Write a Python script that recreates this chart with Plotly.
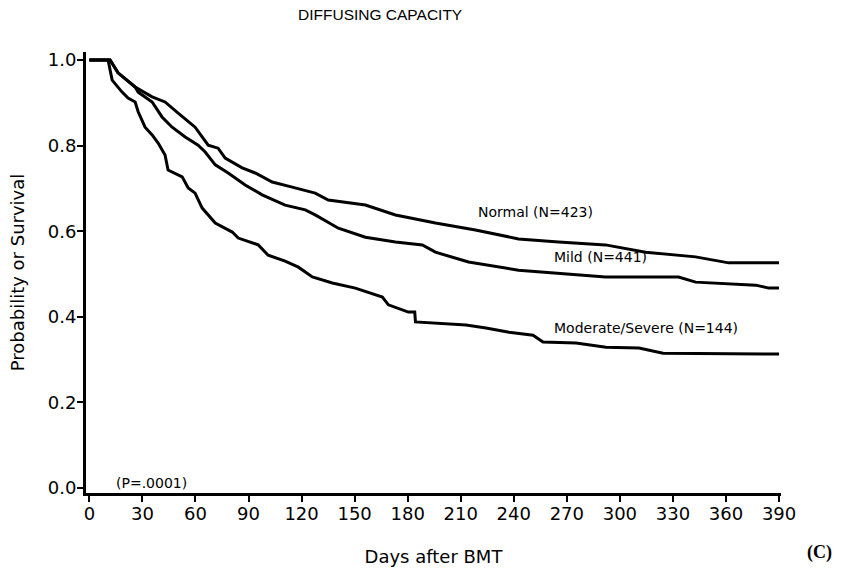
import plotly.graph_objects as go

# Days after BMT / survival probability
normal_days = [0, 11.7, 16.2, 25.9, 35.5, 42.8, 50.2, 59.8, 67.2, 72.8, 76.8, 86.4, 93.8,
               103.4, 114.7, 127.7, 135.1, 156.1, 173.1, 195.7, 218.3, 242.7, 265.3,
               291.9, 314.5, 342.8, 361.5, 390]
normal_surv = [1.0, 1.0, 0.970, 0.937, 0.914, 0.902, 0.876, 0.843, 0.801, 0.794, 0.771,
               0.748, 0.736, 0.715, 0.703, 0.689, 0.673, 0.661, 0.638, 0.619, 0.603,
               0.582, 0.575, 0.568, 0.551, 0.540, 0.526, 0.526]

mild_days = [0, 11.7, 16.2, 25.9, 27.6, 35.5, 41.1, 46.8, 54.2, 61.5, 65.5, 71.2, 78.5,
             88.1, 97.7, 110.7, 122.1, 127.7, 140.8, 156.1, 173.1, 188.3, 195.7, 214.4,
             242.7, 265.3, 291.9, 333.2, 342.8, 376.8, 384.2, 390]
mild_surv = [1.0, 1.0, 0.970, 0.937, 0.925, 0.902, 0.867, 0.843, 0.820, 0.801, 0.785,
             0.755, 0.736, 0.708, 0.685, 0.661, 0.650, 0.638, 0.607, 0.586, 0.575,
             0.568, 0.551, 0.528, 0.509, 0.502, 0.493, 0.493, 0.481, 0.474, 0.467,
             0.467]

mod_days = [0, 10.6, 11.7, 12.9, 18.5, 21.9, 25.9, 27.6, 31.5, 35.5, 38.9, 42.8, 44.5,
            52.5, 55.9, 59.8, 63.8, 71.2, 80.8, 84.2, 95.5, 101.1, 110.7, 118.2, 126.1,
            137.4, 150.4, 165.7, 169.1, 180.4, 184.0, 184.4, 213.0, 224.3, 237.3,
            250.9, 256.5, 275.2, 292.1, 310.8, 324.4, 390]
mod_surv = [1.0, 1.0, 0.977, 0.953, 0.925, 0.911, 0.902, 0.879, 0.843, 0.825, 0.806,
            0.778, 0.743, 0.727, 0.701, 0.689, 0.654, 0.619, 0.598, 0.584, 0.568,
            0.544, 0.530, 0.516, 0.493, 0.479, 0.467, 0.446, 0.428, 0.411, 0.411,
            0.388, 0.381, 0.374, 0.364, 0.357, 0.341, 0.339, 0.329, 0.327, 0.315,
            0.313]

x_ticks = [0, 30, 60, 90, 120, 150, 180, 210, 240, 270, 300, 330, 360, 390]
y_ticks = [0.0, 0.2, 0.4, 0.6, 0.8, 1.0]
y_tick_labels = ["0.0", "0.2", "0.4", "0.6", "0.8", "1.0"]

labels = ["Normal (N=423)", "Mild (N=441)", "Moderate/Severe (N=144)"]
label_pos = [(252, 0.645), (289, 0.540), (315, 0.374)]

fig = go.Figure()
for d, s in [(normal_days, normal_surv), (mild_days, mild_surv), (mod_days, mod_surv)]:
    fig.add_trace(go.Scatter(x=d, y=s, mode="lines",
                             line=dict(color="black", width=3),
                             showlegend=False, hoverinfo="skip"))

tick_font = dict(family="DejaVu Sans", size=18, color="black")
title_font = dict(family="DejaVu Sans", size=18, color="black")
for txt, (px, py) in zip(labels, label_pos):
    fig.add_annotation(x=px, y=py, text=txt, showarrow=False,
                       font=dict(family="DejaVu Sans", size=14, color="black"))
fig.add_annotation(x=35, y=0.011, text="(P=.0001)", showarrow=False,
                   font=dict(family="DejaVu Sans", size=14, color="black"))
fig.add_annotation(xref="paper", yref="paper", x=0.423, y=1.086, yanchor="middle",
                   text="DIFFUSING CAPACITY", showarrow=False,
                   font=dict(family="Liberation Sans", size=15.5, color="black"))
fig.add_annotation(xref="paper", yref="paper", x=1.056, y=-0.134, yanchor="middle",
                   text="<b>(C)</b>", showarrow=False, xanchor="center",
                   font=dict(family="Liberation Serif", size=18, color="black"))

fig.update_layout(
    width=849, height=570,
    margin=dict(l=86, r=68, t=52, b=77),
    paper_bgcolor="white", plot_bgcolor="white",
    xaxis=dict(range=[-1.9, 391.1], tickvals=x_ticks, ticks="outside", ticklen=6,
               tickwidth=1.5, tickcolor="black", showline=True, linecolor="black",
               linewidth=3, showgrid=False, zeroline=False, tickfont=tick_font,
               automargin=False, ticklabelstandoff=-4,
               title=dict(text="Days after BMT", font=title_font, standoff=28)),
    yaxis=dict(range=[-0.0117, 1.0187], tickvals=y_ticks, ticktext=y_tick_labels,
               ticks="outside", ticklen=6, tickwidth=1.5, tickcolor="black",
               showline=True, linecolor="black", linewidth=3, showgrid=False,
               zeroline=False, tickfont=tick_font, automargin=False,
               ticklabelstandoff=-3,
               title=dict(text="Probability or Survival", font=title_font, standoff=19)),
)

fig.write_html("out.html", config={"displayModeBar": False},
               post_script="document.body.style.margin='0px';document.body.style.overflow='hidden';")
